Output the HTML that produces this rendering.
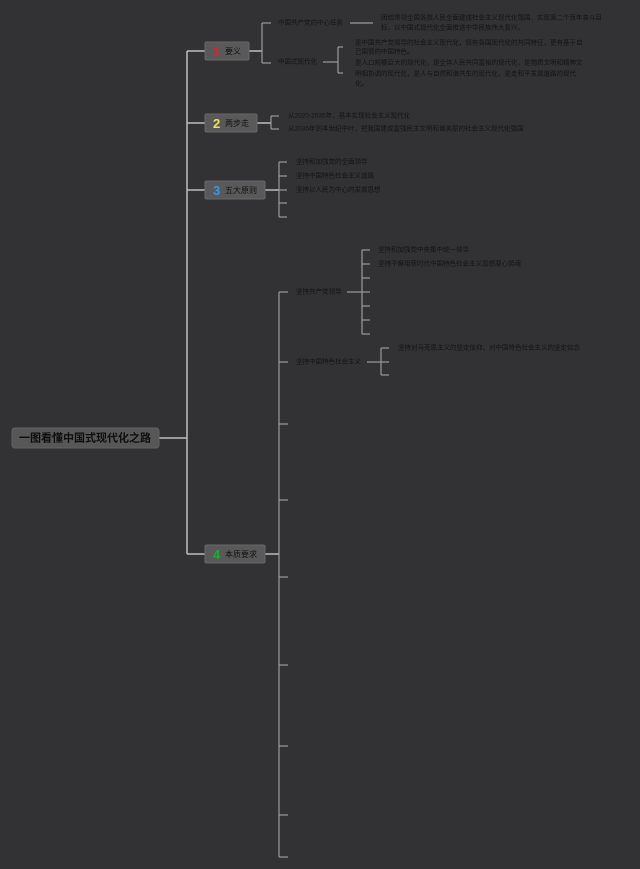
<!DOCTYPE html>
<html><head><meta charset="utf-8"><style>
html,body{margin:0;padding:0;background:#323133;}
svg{display:block;}
text{font-family:"Liberation Sans","Noto Sans CJK SC",sans-serif;}
</style></head><body>
<svg width="640" height="869" viewBox="0 0 640 869" xmlns="http://www.w3.org/2000/svg">
<rect width="640" height="869" fill="#323133"/>
<!-- trunk -->
<g stroke="#bdbdbd" stroke-width="1.5" fill="none">
<line x1="187" y1="51" x2="187" y2="554"/>
<line x1="159" y1="438" x2="187" y2="438"/>
<line x1="187" y1="51" x2="205" y2="51"/>
<line x1="187" y1="123" x2="205" y2="123"/>
<line x1="187" y1="190" x2="205" y2="190"/>
<line x1="187" y1="554" x2="205" y2="554"/>
<line x1="249" y1="51" x2="262" y2="51"/>
<line x1="257" y1="123" x2="271" y2="123"/>
<line x1="265" y1="190" x2="279" y2="190"/>
<line x1="265" y1="554" x2="279" y2="554"/>
</g>
<g stroke="#9a9a9a" stroke-width="1.2" fill="none">
<!-- node1 -->
<line x1="262" y1="23" x2="262" y2="63"/>
<line x1="262" y1="23" x2="271" y2="23"/>
<line x1="262" y1="63" x2="271" y2="63"/>
<line x1="350" y1="23" x2="373" y2="23"/>
<line x1="323" y1="62" x2="338" y2="62"/>
<line x1="338" y1="47" x2="338" y2="73"/>
<line x1="338" y1="47" x2="343" y2="47"/>
<line x1="338" y1="73" x2="343" y2="73"/>
<!-- node2 -->
<line x1="271" y1="116" x2="271" y2="129"/>
<line x1="271" y1="116" x2="279" y2="116"/>
<line x1="271" y1="129" x2="279" y2="129"/>
<!-- node3 -->
<line x1="279" y1="162" x2="279" y2="217"/>
<line x1="279" y1="162" x2="287" y2="162"/>
<line x1="279" y1="176" x2="287" y2="176"/>
<line x1="279" y1="190" x2="287" y2="190"/>
<line x1="279" y1="203" x2="287" y2="203"/>
<line x1="279" y1="217" x2="287" y2="217"/>
<!-- node4 -->
<line x1="279" y1="292" x2="279" y2="857"/>
<line x1="279" y1="292" x2="288" y2="292"/>
<line x1="279" y1="362" x2="288" y2="362"/>
<line x1="279" y1="424" x2="288" y2="424"/>
<line x1="279" y1="500" x2="288" y2="500"/>
<line x1="279" y1="577" x2="288" y2="577"/>
<line x1="279" y1="665" x2="288" y2="665"/>
<line x1="279" y1="746" x2="288" y2="746"/>
<line x1="279" y1="815" x2="288" y2="815"/>
<line x1="279" y1="857" x2="288" y2="857"/>
<line x1="347" y1="292" x2="362" y2="292"/>
<line x1="362" y1="250" x2="362" y2="334"/>
<line x1="362" y1="250" x2="370" y2="250"/>
<line x1="362" y1="264" x2="370" y2="264"/>
<line x1="362" y1="278" x2="370" y2="278"/>
<line x1="362" y1="292" x2="370" y2="292"/>
<line x1="362" y1="306" x2="370" y2="306"/>
<line x1="362" y1="320" x2="370" y2="320"/>
<line x1="362" y1="334" x2="370" y2="334"/>
<line x1="367" y1="362" x2="381" y2="362"/>
<line x1="381" y1="348" x2="381" y2="375"/>
<line x1="381" y1="348" x2="389" y2="348"/>
<line x1="381" y1="362" x2="389" y2="362"/>
<line x1="381" y1="375" x2="389" y2="375"/>
</g>
<!-- root -->
<rect x="12" y="428" width="147" height="20" rx="3" fill="#575757" stroke="#626262" stroke-width="1"/>
<text x="19" y="438.5" dominant-baseline="central" fill="#0e0e0e" font-size="11" font-weight="bold">一图看懂中国式现代化之路</text>
<!-- nodes -->
<g fill="#595959" stroke="#686868" stroke-width="1">
<rect x="205" y="42" width="44" height="18" rx="1.5"/>
<rect x="205" y="114" width="52" height="18" rx="1.5"/>
<rect x="205" y="181" width="60" height="18" rx="1.5"/>
<rect x="205" y="545" width="60" height="18" rx="1.5"/>
</g>
<g font-size="13" font-weight="bold">
<text x="213" y="51.5" dominant-baseline="central" fill="#ee1c2a">1</text>
<text x="213" y="123.5" dominant-baseline="central" fill="#f2e24e">2</text>
<text x="213" y="190.5" dominant-baseline="central" fill="#3b97e0">3</text>
<text x="213" y="554.5" dominant-baseline="central" fill="#23a83a">4</text>
</g>
<g font-size="8" fill="#121212">
<text x="225" y="51.5" dominant-baseline="central">要义</text>
<text x="225" y="123.5" dominant-baseline="central">两步走</text>
<text x="225" y="190.5" dominant-baseline="central">五大原则</text>
<text x="225" y="554.5" dominant-baseline="central">本质要求</text>
</g>
<g font-size="6.5" fill="#141414">
<!-- node1 texts -->
<text x="278" y="23" dominant-baseline="central">中国共产党的中心任务</text>
<text x="278" y="62" dominant-baseline="central">中国式现代化</text>
<text x="381" y="18" dominant-baseline="central">团结带领全国各族人民全面建成社会主义现代化强国、实现第二个百年奋斗目</text>
<text x="381" y="28" dominant-baseline="central">标，以中国式现代化全面推进中华民族伟大复兴。</text>
<text x="355" y="43" dominant-baseline="central">是中国共产党领导的社会主义现代化，既有各国现代化的共同特征，更有基于自</text>
<text x="355" y="52" dominant-baseline="central">己国情的中国特色。</text>
<text x="355" y="63" dominant-baseline="central">是人口规模巨大的现代化，是全体人民共同富裕的现代化，是物质文明和精神文</text>
<text x="355" y="74" dominant-baseline="central">明相协调的现代化，是人与自然和谐共生的现代化，是走和平发展道路的现代</text>
<text x="355" y="84" dominant-baseline="central">化。</text>
<!-- node2 texts -->
<text x="288" y="116" dominant-baseline="central">从2020-2035年，基本实现社会主义现代化</text>
<text x="288" y="129" dominant-baseline="central">从2035年到本世纪中叶，把我国建成富强民主文明和谐美丽的社会主义现代化强国</text>
<!-- node3 texts -->
<text x="296" y="162" dominant-baseline="central">坚持和加强党的全面领导</text>
<text x="296" y="176" dominant-baseline="central">坚持中国特色社会主义道路</text>
<text x="296" y="190" dominant-baseline="central">坚持以人民为中心的发展思想</text>
<!-- node4 texts -->
<text x="296" y="292" dominant-baseline="central">坚持共产党领导</text>
<text x="296" y="362" dominant-baseline="central">坚持中国特色社会主义</text>
<text x="378" y="250" dominant-baseline="central">坚持和加强党中央集中统一领导</text>
<text x="378" y="264" dominant-baseline="central">坚持不懈用新时代中国特色社会主义思想凝心铸魂</text>
<text x="398" y="348" dominant-baseline="central">坚持对马克思主义的坚定信仰、对中国特色社会主义的坚定信念</text>
</g>
</svg>
</body></html>
